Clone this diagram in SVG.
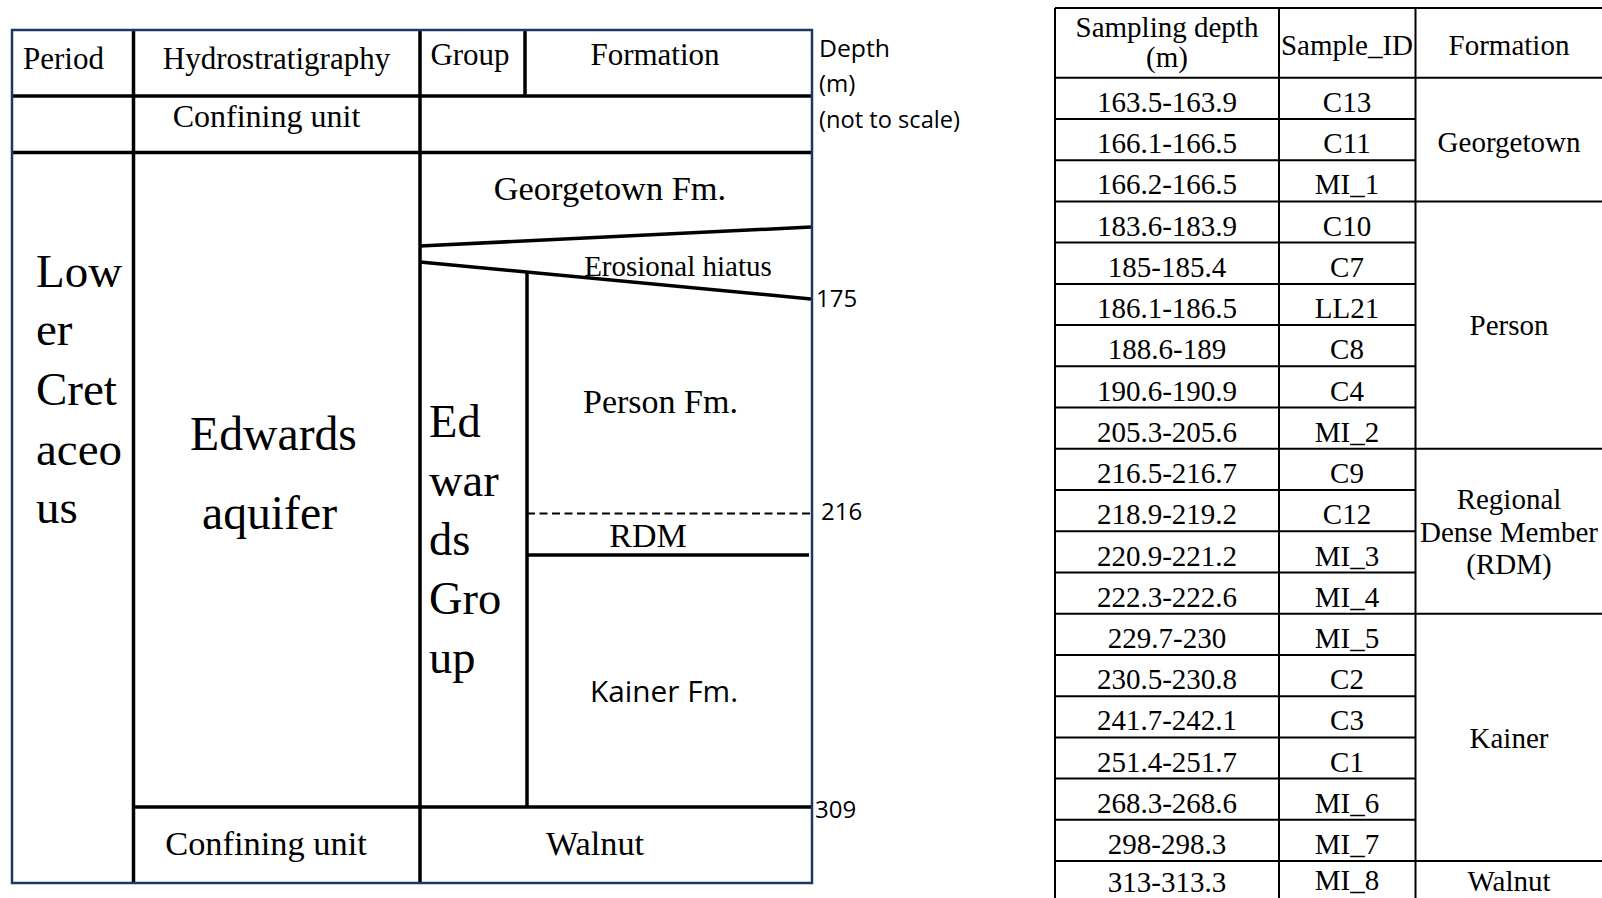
<svg xmlns="http://www.w3.org/2000/svg" width="1602" height="898" viewBox="0 0 1602 898">
<style>
.s{font-family:"Liberation Serif","Times New Roman",serif;fill:#000}
.n{font-family:"Open Sans","Noto Sans",sans-serif;fill:#000}
.m{text-anchor:middle}
.ln{stroke:#000;stroke-width:3.5;fill:none}
.tl{stroke:#000;stroke-width:2;fill:none}
.t{font-family:"Liberation Serif","Times New Roman",serif;font-size:29px;text-anchor:middle;fill:#000}
</style>
<rect width="1602" height="898" fill="#fff"/>
<g id="column-chart">
  <g id="chart-lines">
    <line class="ln" x1="133.5" y1="30" x2="133.5" y2="883"/>
    <line class="ln" x1="420" y1="30" x2="420" y2="883"/>
    <line class="ln" x1="525" y1="30" x2="525" y2="96"/>
    <line class="ln" x1="12" y1="96" x2="811" y2="96"/>
    <line class="ln" x1="12" y1="152.5" x2="811" y2="152.5"/>
    <line class="ln" x1="420" y1="246" x2="811" y2="227"/>
    <line class="ln" x1="420" y1="262" x2="811" y2="299"/>
    <line class="ln" x1="527" y1="272" x2="527" y2="807"/>
    <line x1="527" y1="513.5" x2="811" y2="513.5" stroke="#000" stroke-width="2" stroke-dasharray="8 4.5"/>
    <line class="ln" x1="527" y1="555" x2="809" y2="555"/>
    <line class="ln" x1="133" y1="807" x2="811" y2="807"/>
  </g>
  <rect id="outer-border" x="12" y="30" width="800" height="853" fill="none" stroke="#1f3763" stroke-width="2.5"/>
  <g id="headers">
    <text class="s" x="23" y="68.5" font-size="31">Period</text>
    <text class="s m" x="276.5" y="68.5" font-size="31">Hydrostratigraphy</text>
    <text class="s m" x="470" y="65" font-size="31">Group</text>
    <text class="s m" x="655" y="65" font-size="31">Formation</text>
  </g>
  <g id="period">
    <text class="s" x="36" y="287" font-size="47">Low</text>
    <text class="s" x="36" y="345" font-size="47">er</text>
    <text class="s" x="36" y="405" font-size="47">Cret</text>
    <text class="s" x="36" y="465" font-size="47">aceo</text>
    <text class="s" x="36" y="523" font-size="47">us</text>
  </g>
  <g id="hydrostratigraphy">
    <text class="s m" x="266.5" y="127" font-size="32">Confining unit</text>
    <text class="s m" x="273.5" y="450" font-size="47.7">Edwards</text>
    <text class="s m" x="269.5" y="529" font-size="47.7">aquifer</text>
    <text class="s m" x="266" y="855" font-size="34.4">Confining unit</text>
  </g>
  <g id="group">
    <text class="s" x="429" y="437" font-size="46.5">Ed</text>
    <text class="s" x="429" y="496" font-size="46.5">war</text>
    <text class="s" x="429" y="555" font-size="46.5">ds</text>
    <text class="s" x="429" y="614" font-size="46.5">Gro</text>
    <text class="s" x="429" y="673" font-size="46.5">up</text>
  </g>
  <g id="formations">
    <text class="s m" x="610" y="200" font-size="34.4">Georgetown Fm.</text>
    <text class="s m" x="678" y="275.5" font-size="29">Erosional hiatus</text>
    <text class="s m" x="660.5" y="413" font-size="34">Person Fm.</text>
    <text class="s m" x="648" y="546.5" font-size="34">RDM</text>
    <text class="n m" x="664" y="702" font-size="29" textLength="148" lengthAdjust="spacingAndGlyphs">Kainer Fm.</text>
    <text class="s m" x="595" y="855" font-size="34.3">Walnut</text>
  </g>
  <g id="depth-labels">
    <text class="n" x="819" y="57" font-size="24" textLength="71" lengthAdjust="spacingAndGlyphs">Depth</text>
    <text class="n" x="819" y="92" font-size="24">(m)</text>
    <text class="n" x="819" y="128" font-size="24" textLength="141" lengthAdjust="spacingAndGlyphs">(not to scale)</text>
    <text class="n" x="816" y="307" font-size="24">175</text>
    <text class="n" x="821" y="520" font-size="24">216</text>
    <text class="n" x="815" y="818" font-size="24">309</text>
  </g>
</g>
<g id="sample-table">
  <g id="table-lines">
    <line class="tl" x1="1055" y1="8" x2="1603" y2="8"/>
    <line class="tl" x1="1055" y1="8" x2="1055" y2="903"/>
    <line class="tl" x1="1279" y1="8" x2="1279" y2="903"/>
    <line class="tl" x1="1415.5" y1="8" x2="1415.5" y2="903"/>
    <line class="tl" x1="1055" y1="77.7" x2="1603" y2="77.7"/>
    <line class="tl" x1="1055" y1="118.9" x2="1415.5" y2="118.9"/>
    <line class="tl" x1="1055" y1="160.2" x2="1415.5" y2="160.2"/>
    <line class="tl" x1="1055" y1="201.4" x2="1603" y2="201.4"/>
    <line class="tl" x1="1055" y1="242.6" x2="1415.5" y2="242.6"/>
    <line class="tl" x1="1055" y1="283.9" x2="1415.5" y2="283.9"/>
    <line class="tl" x1="1055" y1="325.1" x2="1415.5" y2="325.1"/>
    <line class="tl" x1="1055" y1="366.3" x2="1415.5" y2="366.3"/>
    <line class="tl" x1="1055" y1="407.5" x2="1415.5" y2="407.5"/>
    <line class="tl" x1="1055" y1="448.8" x2="1603" y2="448.8"/>
    <line class="tl" x1="1055" y1="490" x2="1415.5" y2="490"/>
    <line class="tl" x1="1055" y1="531.2" x2="1415.5" y2="531.2"/>
    <line class="tl" x1="1055" y1="572.5" x2="1415.5" y2="572.5"/>
    <line class="tl" x1="1055" y1="613.7" x2="1603" y2="613.7"/>
    <line class="tl" x1="1055" y1="654.9" x2="1415.5" y2="654.9"/>
    <line class="tl" x1="1055" y1="696.2" x2="1415.5" y2="696.2"/>
    <line class="tl" x1="1055" y1="737.4" x2="1415.5" y2="737.4"/>
    <line class="tl" x1="1055" y1="778.6" x2="1415.5" y2="778.6"/>
    <line class="tl" x1="1055" y1="819.8" x2="1415.5" y2="819.8"/>
    <line class="tl" x1="1055" y1="861.1" x2="1603" y2="861.1"/>
  </g>
  <g id="table-header">
    <text class="t" x="1167" y="37">Sampling depth</text>
    <text class="t" x="1167" y="67">(m)</text>
    <text class="t" x="1347" y="55">Sample_ID</text>
    <text class="t" x="1509" y="55">Formation</text>
  </g>
  <g id="depth-column">
    <text class="t" x="1167" y="111.9">163.5-163.9</text>
    <text class="t" x="1167" y="153.2">166.1-166.5</text>
    <text class="t" x="1167" y="194.4">166.2-166.5</text>
    <text class="t" x="1167" y="235.6">183.6-183.9</text>
    <text class="t" x="1167" y="276.9">185-185.4</text>
    <text class="t" x="1167" y="318.1">186.1-186.5</text>
    <text class="t" x="1167" y="359.3">188.6-189</text>
    <text class="t" x="1167" y="400.5">190.6-190.9</text>
    <text class="t" x="1167" y="441.8">205.3-205.6</text>
    <text class="t" x="1167" y="483">216.5-216.7</text>
    <text class="t" x="1167" y="524.2">218.9-219.2</text>
    <text class="t" x="1167" y="565.5">220.9-221.2</text>
    <text class="t" x="1167" y="606.7">222.3-222.6</text>
    <text class="t" x="1167" y="647.9">229.7-230</text>
    <text class="t" x="1167" y="689.2">230.5-230.8</text>
    <text class="t" x="1167" y="730.4">241.7-242.1</text>
    <text class="t" x="1167" y="771.6">251.4-251.7</text>
    <text class="t" x="1167" y="812.8">268.3-268.6</text>
    <text class="t" x="1167" y="854.1">298-298.3</text>
    <text class="t" x="1167" y="891.5">313-313.3</text>
  </g>
  <g id="id-column">
    <text class="t" x="1347" y="111.9">C13</text>
    <text class="t" x="1347" y="153.2">C11</text>
    <text class="t" x="1347" y="194.4">MI_1</text>
    <text class="t" x="1347" y="235.6">C10</text>
    <text class="t" x="1347" y="276.9">C7</text>
    <text class="t" x="1347" y="318.1">LL21</text>
    <text class="t" x="1347" y="359.3">C8</text>
    <text class="t" x="1347" y="400.5">C4</text>
    <text class="t" x="1347" y="441.8">MI_2</text>
    <text class="t" x="1347" y="483">C9</text>
    <text class="t" x="1347" y="524.2">C12</text>
    <text class="t" x="1347" y="565.5">MI_3</text>
    <text class="t" x="1347" y="606.7">MI_4</text>
    <text class="t" x="1347" y="647.9">MI_5</text>
    <text class="t" x="1347" y="689.2">C2</text>
    <text class="t" x="1347" y="730.4">C3</text>
    <text class="t" x="1347" y="771.6">C1</text>
    <text class="t" x="1347" y="812.8">MI_6</text>
    <text class="t" x="1347" y="854.1">MI_7</text>
    <text class="t" x="1347" y="889.5">MI_8</text>
  </g>
  <g id="formation-column">
    <text class="t" x="1509" y="151.5">Georgetown</text>
    <text class="t" x="1509" y="335">Person</text>
    <text class="t" x="1509" y="508.5">Regional</text>
    <text class="t" x="1509" y="541.5">Dense Member</text>
    <text class="t" x="1509" y="574">(RDM)</text>
    <text class="t" x="1509" y="748">Kainer</text>
    <text class="t" x="1509" y="891">Walnut</text>
  </g>
</g>
</svg>
